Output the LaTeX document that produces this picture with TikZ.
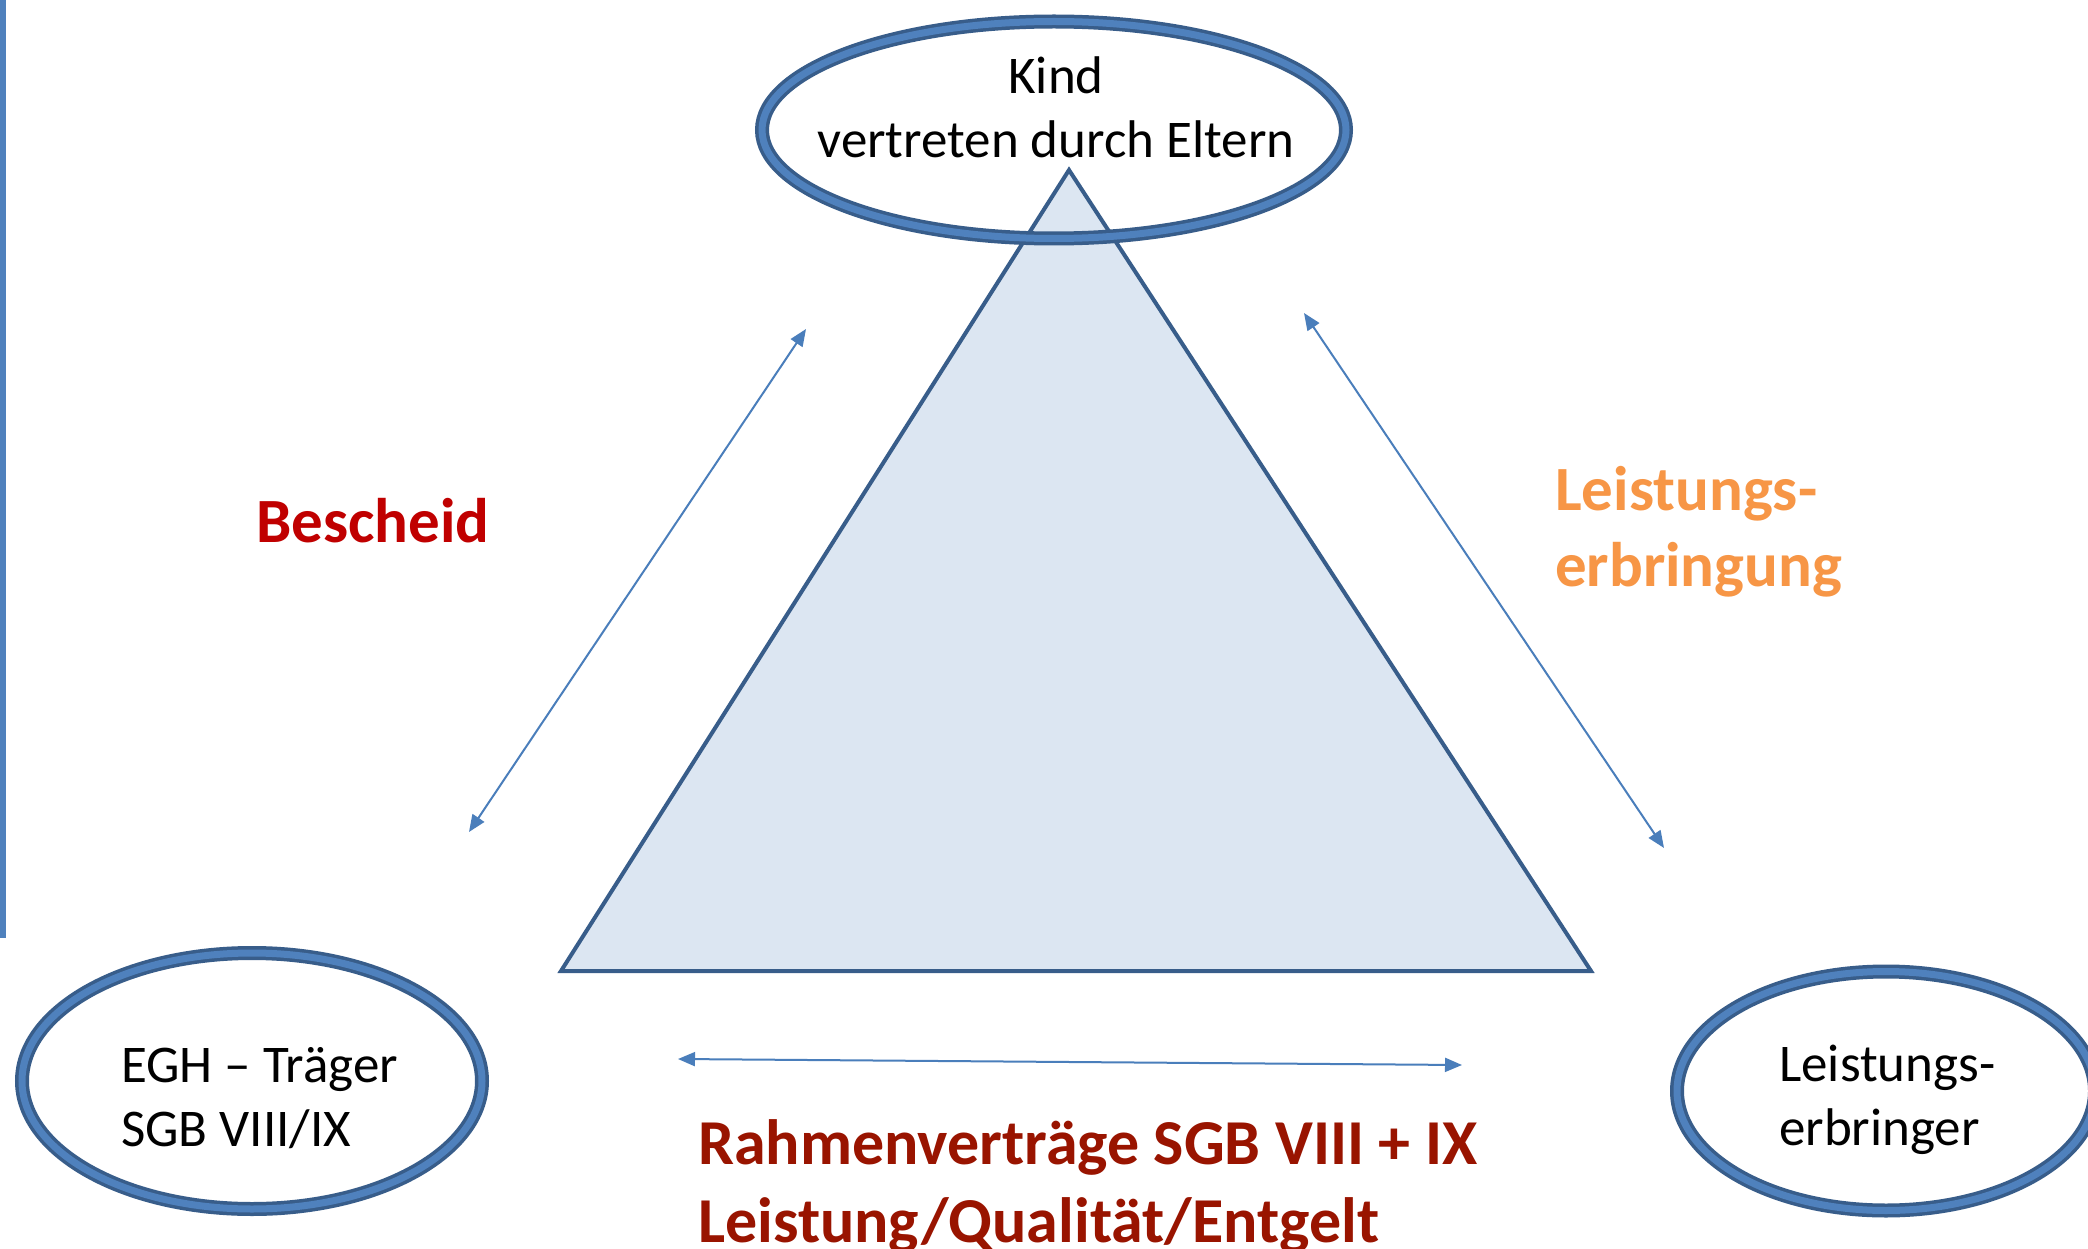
\documentclass[tikz,border=0pt]{standalone}
\usepackage{fontspec}
\setmainfont{Carlito}
\usetikzlibrary{shapes.geometric,arrows.meta}
\definecolor{barblue}{HTML}{4F81BD}
\definecolor{darkline}{HTML}{385D8A}
\definecolor{trifill}{HTML}{DCE6F2}
\definecolor{arrowblue}{HTML}{4A7EBB}
\definecolor{orangetxt}{HTML}{F79646}
\definecolor{redtxt}{HTML}{C00000}
\definecolor{darkredtxt}{HTML}{991400}
\tikzset{
  ring/.style={ellipse, draw=darkline, double=barblue, double distance=7pt, line width=3.5pt, inner sep=0pt},
  normtxt/.style={inner sep=0pt, font=\fontsize{53}{64}\selectfont},
  boldtxt/.style={inner sep=0pt, align=left, font=\fontsize{63}{76}\selectfont\bfseries},
  biarrow/.style={draw=arrowblue, line width=2pt, {Triangle[length=17pt,width=14pt]}-{Triangle[length=17pt,width=14pt]}},
}
\begin{document}
\begin{tikzpicture}[x=1pt,y=-1pt]
\useasboundingbox[fill=white] (0,0) rectangle (2088,1249);
% left bar
\fill[barblue] (0,0) rectangle (6,938);
% triangle
\coordinate (apex) at (1069,170);
\coordinate (bl) at (561,971);
\coordinate (br) at (1591,971);
\draw[darkline, fill=trifill, line width=4pt, line join=miter] (apex) -- (bl) -- (br) -- cycle;
% ellipses
\node[ring, minimum width=584, minimum height=217] (kind) at (1054,130) {};
\node[ring, minimum width=460, minimum height=256] (egh) at (252,1081) {};
\node[ring, minimum width=418, minimum height=239] (le) at (1886,1091) {};
% ellipse texts
\node[normtxt, align=center] (kindtxt) at (1056,107) {Kind\\vertreten durch Eltern};
\node[normtxt, align=left, anchor=west] (eghtxt) at (121,1098) {EGH – Träger\\SGB VIII/IX};
\node[normtxt, align=left, anchor=west] (letxt) at (1779,1100) {Leistungs-\\erbringer};
% arrows
\coordinate (a1s) at (469,832);
\coordinate (a1e) at (806,329);
\coordinate (a2s) at (1304,313);
\coordinate (a2e) at (1664,848);
\coordinate (a3s) at (678,1059);
\coordinate (a3e) at (1462,1065);
\draw[biarrow] (a1s) -- (a1e);
\draw[biarrow] (a2s) -- (a2e);
\draw[biarrow] (a3s) -- (a3e);
% labels
\node[boldtxt, text=redtxt] (bescheid) at (373,521) {Bescheid};
\node[boldtxt, text=orangetxt, anchor=west] (leist) at (1555,532) {Leistungs-\\erbringung};
\node[boldtxt, text=darkredtxt, anchor=west, font=\fontsize{64}{78}\selectfont\bfseries] (rahmen) at (698,1186) {Rahmenverträge SGB VIII + IX\\Leistung/Qualität/Entgelt};
\end{tikzpicture}
\end{document}
